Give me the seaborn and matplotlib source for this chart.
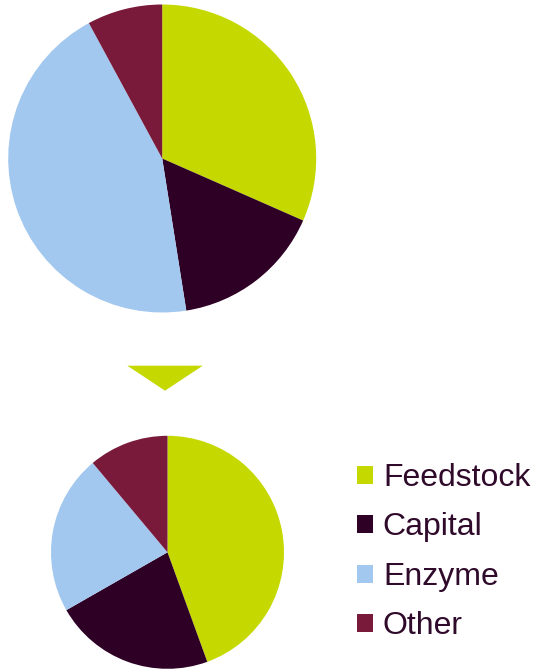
import matplotlib
matplotlib.use("Agg")
import matplotlib.pyplot as plt
import seaborn as sns
from matplotlib.patches import Polygon, Patch

sns.set_style("white")
plt.rcParams["font.family"] = ["Liberation Sans", "DejaVu Sans"]

categories = ["Feedstock", "Capital", "Enzyme", "Other"]
before_share = [31.6, 15.9, 44.6, 7.9]
after_share = [44.5, 22.3, 22.2, 11.1]
colors = ["#c5d900", "#2f0025", "#a2c8f0", "#7a1a3a"]
text_color = "#2f0a2a"

W, H = 539, 671
fig = plt.figure(figsize=(W / 100, H / 100), dpi=100)
ax = fig.add_axes([0, 0, 1, 1])

wp = dict(linewidth=0)
ax.pie(before_share, colors=colors, startangle=90, counterclock=False,
       center=(162.2, H - 158.5), radius=154, wedgeprops=wp, frame=True)
ax.pie(after_share, colors=colors, startangle=90, counterclock=False,
       center=(167.5, H - 552.3), radius=116.5, wedgeprops=wp, frame=True)
ax.set_xlim(0, W)
ax.set_ylim(0, H)
ax.set_aspect("equal")
ax.axis("off")

# arrow between the two pies
ax.add_patch(Polygon([(127.3, H - 365.7), (202.7, H - 365.7), (165, H - 390.7)],
                     closed=True, color=colors[0], linewidth=0))

handles = [Patch(facecolor=c, edgecolor="none", label=l) for c, l in zip(colors, categories)]
leg = fig.legend(handles=handles, loc="upper left",
                 bbox_to_anchor=(357 / W, 1 - 463 / H), frameon=False,
                 fontsize=23, handlelength=0.5, handleheight=0.5,
                 handletextpad=0.31, labelspacing=0.61, borderpad=0, borderaxespad=0)
for t in leg.get_texts():
    t.set_color(text_color)

fig.savefig("out.png", dpi=100)
